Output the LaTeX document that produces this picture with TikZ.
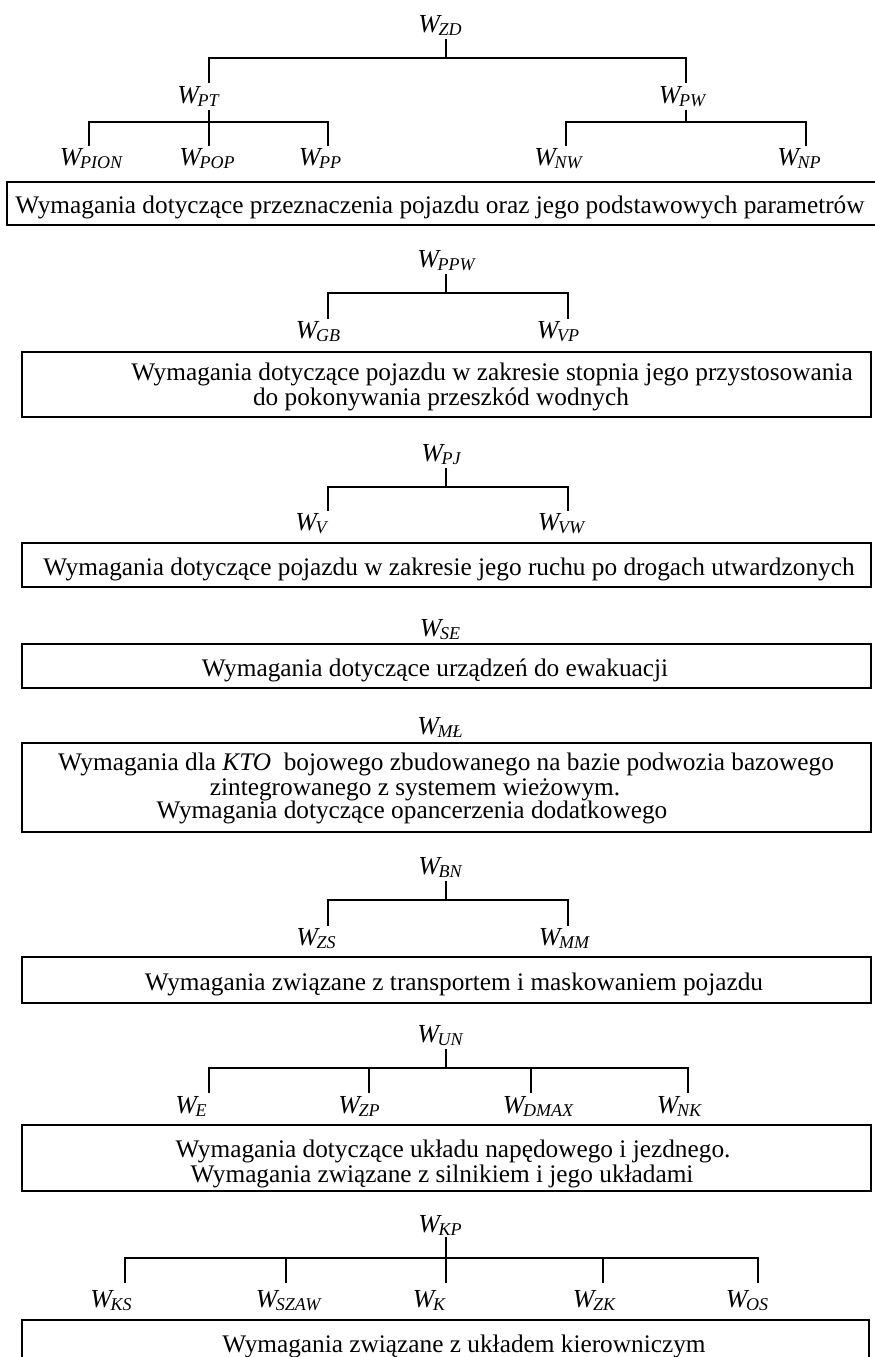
\documentclass[tikz,border=0pt]{standalone}
\usepackage{fontspec}
\setmainfont{Liberation Serif}
\newcommand\Wl[1]{{\fontsize{26}{26}\selectfont\itshape W\kern-1.5pt\raisebox{-3.5pt}{\fontsize{18}{18}\selectfont\itshape #1}}}
\tikzset{
  tree/.style={line width=2pt, line cap=rect},
  boxnode/.style={draw, line width=2.4pt, inner sep=0pt, anchor=north west},
  txt/.style={inner sep=0pt, anchor=base, font=\fontsize{25.3}{25}\selectfont},
  lbl/.style={inner sep=0pt, anchor=base},
}
\begin{document}
\begin{tikzpicture}[x=1pt,y=-1pt]
\clip (0,0) rectangle (875,1357);
\fill[white] (0,0) rectangle (875,1357);

% ---------- Tree 1 ----------
\node[lbl] (ZD) at (440,32) {\Wl{ZD}};
\node[lbl] (PT) at (198,103) {\Wl{PT}};
\node[lbl] (PW) at (682,103) {\Wl{PW}};
\node[lbl] (PION) at (91,165) {\Wl{PION}};
\node[lbl] (POP) at (207,165) {\Wl{POP}};
\node[lbl] (PP) at (320,165) {\Wl{PP}};
\node[lbl] (NW) at (558,165) {\Wl{NW}};
\node[lbl] (NP) at (799,165) {\Wl{NP}};
\coordinate (zd1) at (446,40); \coordinate (zd2) at (446,58);
\coordinate (zdl) at (209,58); \coordinate (zdr) at (686,58);
\coordinate (pt0) at (209,82); \coordinate (pw0) at (686,82);
\coordinate (pt1) at (209,111); \coordinate (pt2) at (209,122);
\coordinate (ptl) at (89,122); \coordinate (ptr) at (328,122);
\coordinate (pion0) at (89,145); \coordinate (pop0) at (209,145); \coordinate (pp0) at (328,145);
\coordinate (pw1) at (686,111); \coordinate (pw2) at (686,122);
\coordinate (pwl) at (566,122); \coordinate (pwr) at (806,122);
\coordinate (nw0) at (566,145); \coordinate (np0) at (806,145);
\draw[tree] (zd1) -- (zd2);
\draw[tree] (pt0) -- (zdl) -- (zdr) -- (pw0);
\draw[tree] (pion0) -- (ptl) -- (ptr) -- (pp0);
\draw[tree] (pt1) -- (pop0);
\draw[tree] (pw1) -- (pw2);
\draw[tree] (nw0) -- (pwl) -- (pwr) -- (np0);
\node[boxnode, minimum width=874pt, minimum height=43pt] (B1) at (6,181) {};
\node[txt] (T1) at (440,213) {Wymagania dotyczące przeznaczenia pojazdu oraz jego podstawowych parametrów};

% ---------- Tree 2 ----------
\node[lbl] (PPW) at (446,267) {\Wl{PPW}};
\node[lbl] (GB) at (318,338) {\Wl{GB}};
\node[lbl] (VP) at (558,338) {\Wl{VP}};
\coordinate (ppw1) at (446,275); \coordinate (ppw2) at (446,293);
\coordinate (gbh) at (328,293); \coordinate (vph) at (568,293);
\coordinate (gb0) at (328,318); \coordinate (vp0) at (568,318);
\draw[tree] (ppw1) -- (ppw2);
\draw[tree] (gb0) -- (gbh) -- (vph) -- (vp0);
\node[boxnode, minimum width=849pt, minimum height=65pt] (B2) at (21,351) {};
\node[txt] (T2a) at (492,380) {Wymagania dotyczące pojazdu w zakresie stopnia jego przystosowania};
\node[txt] (T2b) at (441,405) {do pokonywania przeszkód wodnych};

% ---------- Tree 3 ----------
\node[lbl] (PJ) at (441,461) {\Wl{PJ}};
\node[lbl] (V) at (311,530) {\Wl{V}};
\node[lbl] (VW) at (561,530) {\Wl{VW}};
\coordinate (pj1) at (446,469); \coordinate (pj2) at (446,487);
\coordinate (vh) at (328,487); \coordinate (vwh) at (568,487);
\coordinate (v0) at (328,510); \coordinate (vw0) at (568,510);
\draw[tree] (pj1) -- (pj2);
\draw[tree] (v0) -- (vh) -- (vwh) -- (vw0);
\node[boxnode, minimum width=849pt, minimum height=44pt] (B3) at (21,542) {};
\node[txt] (T3) at (449,575) {Wymagania dotyczące pojazdu w zakresie jego ruchu po drogach utwardzonych};

% ---------- SE ----------
\node[lbl] (SE) at (440,636) {\Wl{SE}};
\node[boxnode, minimum width=849pt, minimum height=44pt] (B4) at (21,643) {};
\node[txt] (T4) at (435,676) {Wymagania dotyczące urządzeń do ewakuacji};

% ---------- MŁ ----------
\node[lbl] (ML) at (440,734) {\Wl{MŁ}};
\node[boxnode, minimum width=849pt, minimum height=89pt] (B5) at (21,742) {};
\node[txt] (T5a) at (446,770) {Wymagania dla \textit{KTO}\ \ bojowego zbudowanego na bazie podwozia bazowego};
\node[txt] (T5b) at (415,795) {zintegrowanego z systemem wieżowym.};
\node[txt] (T5c) at (412,818) {Wymagania dotyczące opancerzenia dodatkowego};

% ---------- Tree BN ----------
\node[lbl] (BN) at (440,874) {\Wl{BN}};
\node[lbl] (ZS) at (316,945) {\Wl{ZS}};
\node[lbl] (MM) at (564,945) {\Wl{MM}};
\coordinate (bn1) at (446,882); \coordinate (bn2) at (446,900);
\coordinate (zsh) at (328,900); \coordinate (mmh) at (568,900);
\coordinate (zs0) at (328,925); \coordinate (mm0) at (568,925);
\draw[tree] (bn1) -- (bn2);
\draw[tree] (zs0) -- (zsh) -- (mmh) -- (mm0);
\node[boxnode, minimum width=849pt, minimum height=46pt] (B6) at (21,956) {};
\node[txt] (T6) at (454,990) {Wymagania związane z transportem i maskowaniem pojazdu};

% ---------- Tree UN ----------
\node[lbl] (UN) at (440,1042) {\Wl{UN}};
\node[lbl] (E) at (191,1113) {\Wl{E}};
\node[lbl] (ZP) at (359,1113) {\Wl{ZP}};
\node[lbl] (DMAX) at (538,1113) {\Wl{DMAX}};
\node[lbl] (NK) at (679,1113) {\Wl{NK}};
\coordinate (un1) at (446,1050); \coordinate (un2) at (446,1068);
\coordinate (eh) at (209,1068); \coordinate (zph) at (369,1068);
\coordinate (dmh) at (531,1068); \coordinate (nkh) at (688,1068);
\coordinate (e0) at (209,1092); \coordinate (zp0) at (369,1092);
\coordinate (dm0) at (531,1092); \coordinate (nk0) at (688,1092);
\draw[tree] (un1) -- (un2);
\draw[tree] (e0) -- (eh) -- (nkh) -- (nk0);
\draw[tree] (zph) -- (zp0);
\draw[tree] (dmh) -- (dm0);
\node[boxnode, minimum width=849pt, minimum height=66pt] (B7) at (21,1124) {};
\node[txt] (T7a) at (453,1157) {Wymagania dotyczące układu napędowego i jezdnego.};
\node[txt] (T7b) at (442,1182) {Wymagania związane z silnikiem i jego układami};

% ---------- Tree KP ----------
\node[lbl] (KP) at (440,1232) {\Wl{KP}};
\node[lbl] (KS) at (111,1307) {\Wl{KS}};
\node[lbl] (SZAW) at (288,1307) {\Wl{SZAW}};
\node[lbl] (K) at (429,1307) {\Wl{K}};
\node[lbl] (ZK) at (594,1307) {\Wl{ZK}};
\node[lbl] (OS) at (747,1307) {\Wl{OS}};
\coordinate (kp1) at (446,1238); \coordinate (kp2) at (446,1258);
\coordinate (ksh) at (125,1258); \coordinate (szh) at (286,1258);
\coordinate (zkh) at (603,1258); \coordinate (osh) at (758,1258);
\coordinate (ks0) at (125,1282); \coordinate (sz0) at (286,1282);
\coordinate (k0) at (446,1282); \coordinate (zk0) at (603,1282); \coordinate (os0) at (758,1282);
\draw[tree] (kp1) -- (k0);
\draw[tree] (ks0) -- (ksh) -- (osh) -- (os0);
\draw[tree] (szh) -- (sz0);
\draw[tree] (zkh) -- (zk0);
\node[boxnode, minimum width=847pt, minimum height=70pt] (B8) at (21,1319) {};
\node[txt] (T8) at (464,1352) {Wymagania związane z układem kierowniczym};
\end{tikzpicture}
\end{document}
